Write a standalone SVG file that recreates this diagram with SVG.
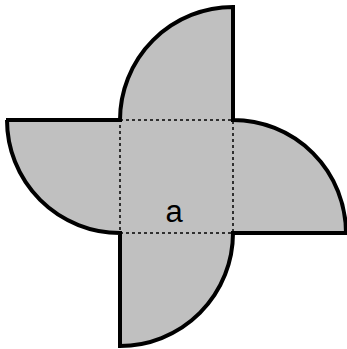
<svg xmlns="http://www.w3.org/2000/svg" width="347" height="349" viewBox="0 0 347 349">
<style>
.shape{fill:#c0c0c0;stroke:#000;stroke-width:4;stroke-linejoin:miter}
.dash{fill:none;stroke:#000;stroke-width:1.5;stroke-dasharray:3 3}
.lbl{font-family:"Liberation Sans",Arial,sans-serif;font-size:31px;fill:#000}
</style>
<rect width="347" height="349" fill="#fff"/>
<g id="pinwheel">
<path class="shape" d="M6 120 H120 A113 113 0 0 1 233 7 V120 A113 113 0 0 1 346 233 H233 A113 113 0 0 1 120 346 V233 A113 113 0 0 1 7 120 Z"/>
</g>
<g id="connectors">
<rect class="dash" x="120" y="120" width="113" height="113"/>
</g>
<g id="label">
<text class="lbl" x="174" y="222" text-anchor="middle">a</text>
</g>
</svg>
